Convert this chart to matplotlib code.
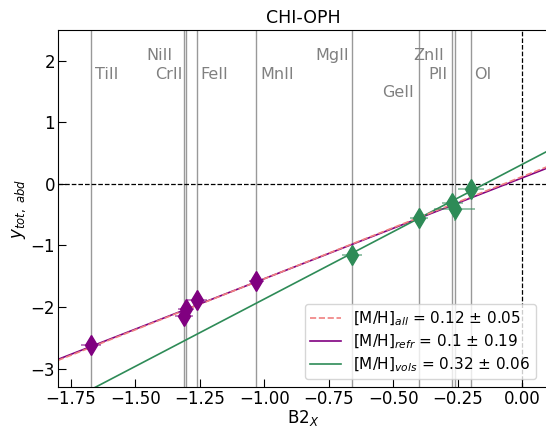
import numpy as np
import matplotlib
matplotlib.use('Agg')
import matplotlib.pyplot as plt
from matplotlib.colors import to_rgba

# element positions on the B2_X axis and measured y values
ions = ['TiII', 'CrII', 'NiII', 'FeII', 'MnII', 'MgII', 'GeII', 'ZnII', 'PII', 'OI']
b2x = [-1.671, -1.311, -1.303, -1.261, -1.031, -0.660, -0.401, -0.271, -0.262, -0.200]

refr_x = [-1.671, -1.311, -1.303, -1.261, -1.031]
refr_y = [-2.61, -2.14, -2.04, -1.88, -1.58]
refr_xerr = [0.04, 0.035, 0.03, 0.04, 0.03]
refr_yerr = [0.05, 0.05, 0.05, 0.05, 0.04]

vols_x = [-0.660, -0.401, -0.271, -0.262, -0.200]
vols_y = [-1.15, -0.556, -0.31, -0.41, -0.086]
vols_xerr = [0.04, 0.035, 0.04, 0.08, 0.05]
vols_yerr = [0.05, 0.04, 0.05, 0.19, 0.05]

# fits: y = slope * x + [M/H]
fit_names = ['all', 'refr', 'vols']
fit_mh = [0.12, 0.10, 0.32]
fit_err = [0.05, 0.19, 0.06]
fit_slope = [1.66, 1.64, 2.19]

# label layout
lab_side = ['left', 'right', 'right', 'left', 'left', 'right', 'right', 'right', 'right', 'left']
lab_y = [1.78, 1.78, 2.09, 1.78, 1.78, 2.09, 1.49, 2.09, 1.78, 1.78]
lab_dx = [2.8, -1, -9.8, 2.7, 3.2, -2.2, -3.5, -6.2, -5.5, 2.5]

fig = plt.figure(figsize=(5.46, 4.30), dpi=100)
ax = fig.add_axes([0.106, 0.10, 0.898, 0.830])

for i, xv in enumerate(b2x):
    ax.axvline(xv, color='gray', lw=1.0, alpha=0.8, zorder=1)
    ax.annotate(ions[i], xy=(xv, lab_y[i]), xytext=(lab_dx[i], 0), textcoords='offset points',
                ha=lab_side[i], va='center', color='gray', fontsize=11.5)

ax.axhline(0, color='k', ls='--', lw=0.9, zorder=1)
ax.axvline(0, color='k', ls='--', lw=0.9, zorder=1)

xx = np.array([-1.8, 0.1])
colors = ['lightcoral', 'purple', 'seagreen']
styles = ['--', '-', '-']
labels = [r'[M/H]$_{%s}$ = %s $\pm$ %s' % (n, m, e) for n, m, e in zip(fit_names, fit_mh, fit_err)]
for k in [1, 2, 0]:
    ax.plot(xx, fit_slope[k] * xx + fit_mh[k], color=colors[k], ls=styles[k], lw=1.2,
            label=labels[k], zorder=2)

ax.errorbar(refr_x, refr_y, xerr=refr_xerr, yerr=refr_yerr, fmt='d', color='purple',
            ecolor=to_rgba('purple', 0.6), elinewidth=1.2, markersize=10, capsize=0, zorder=4)
ax.errorbar(vols_x, vols_y, xerr=vols_xerr, yerr=vols_yerr, fmt='d', color='seagreen',
            ecolor=to_rgba('seagreen', 0.6), elinewidth=1.2, markersize=10, capsize=0, zorder=4)

h, l = ax.get_legend_handles_labels()
order = [l.index(labels[0]), l.index(labels[1]), l.index(labels[2])]
ax.legend([h[i] for i in order], [l[i] for i in order], loc='lower right', fontsize=11,
          bbox_to_anchor=(0.99, 0.0), handlelength=2.0, borderpad=0.35, labelspacing=0.3)

ax.set_xlim(-1.8, 0.1)
ax.set_ylim(-3.3, 2.5)
ax.set_xticks([-1.75, -1.5, -1.25, -1.0, -0.75, -0.5, -0.25, 0.0])
ax.set_yticks([-3, -2, -1, 0, 1, 2])
ax.tick_params(direction='in', labelsize=12, length=6, pad=2)
ax.set_xlabel(r'B2$_X$', fontsize=12, labelpad=0)
ax.set_ylabel(r'$y_{tot,\ abd}$', fontsize=12, labelpad=2)
ax.set_title('CHI-OPH', fontsize=12.5, pad=5)

fig.savefig('out.png', dpi=100)
